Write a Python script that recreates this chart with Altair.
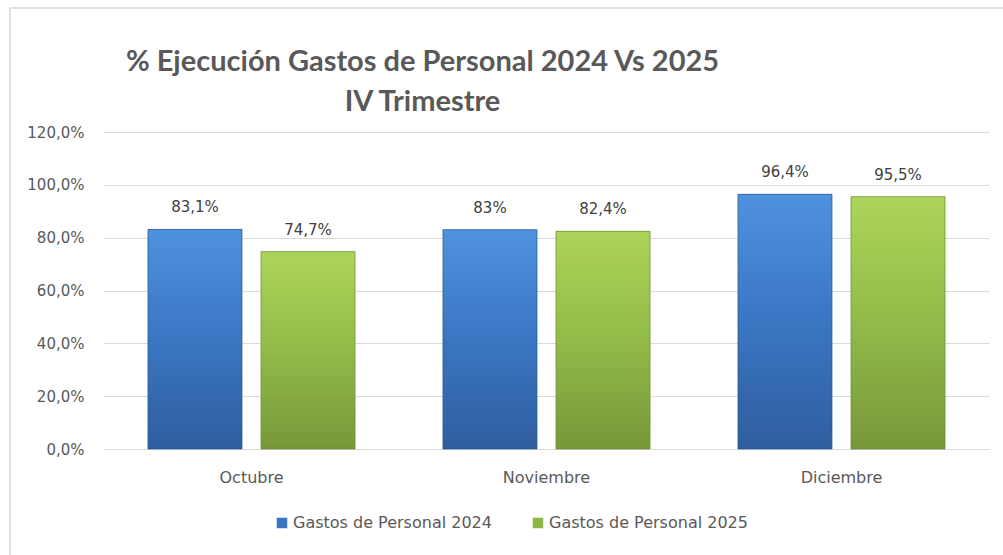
import altair as alt
import pandas as pd

months = ["Octubre", "Noviembre", "Diciembre"]
series = ["Gastos de Personal 2024", "Gastos de Personal 2025"]
values_2024 = [83.1, 83.0, 96.4]
values_2025 = [74.7, 82.4, 95.5]
labels_2024 = ["83,1%", "83%", "96,4%"]
labels_2025 = ["74,7%", "82,4%", "95,5%"]
y_ticks = [0, 20, 40, 60, 80, 100, 120]

rows = []
for m, v, l in zip(months, values_2024, labels_2024):
    rows.append({"mes": m, "serie": series[0], "valor": v, "etiqueta": l})
for m, v, l in zip(months, values_2025, labels_2025):
    rows.append({"mes": m, "serie": series[1], "valor": v, "etiqueta": l})
df = pd.DataFrame(rows)

FONT = "DejaVu Sans"
TXT = "#595959"
GRID = "#D9D9D9"

blue_grad = alt.Gradient(
    gradient="linear", x1=0, x2=0, y1=0, y2=1,
    stops=[alt.GradientStop(color="#4F92DE", offset=0),
           alt.GradientStop(color="#3C78C6", offset=0.45),
           alt.GradientStop(color="#2E5E9F", offset=1)])
green_grad = alt.Gradient(
    gradient="linear", x1=0, x2=0, y1=0, y2=1,
    stops=[alt.GradientStop(color="#ADD45A", offset=0),
           alt.GradientStop(color="#94BE4A", offset=0.45),
           alt.GradientStop(color="#77983A", offset=1)])

x_enc = alt.X("mes:N", sort=months,
              scale=alt.Scale(paddingInner=0, paddingOuter=0),
              axis=alt.Axis(title=None, labelAngle=0, labelPadding=20, ticks=False,
                            domain=True, domainColor=GRID, labelFont=FONT,
                            labelFontSize=16, labelColor=TXT))
xo_enc = alt.XOffset("serie:N", sort=series,
                     scale=alt.Scale(paddingInner=0.168, paddingOuter=0.389))
y_enc = alt.Y("valor:Q", scale=alt.Scale(domain=[0, 120], nice=False),
              axis=alt.Axis(title=None, values=y_ticks, ticks=False, domain=False,
                            gridColor=GRID, gridWidth=1, labelPadding=20,
                            labelFont=FONT, labelFontSize=15, labelColor=TXT,
                            labelExpr="replace(format(datum.value, '.1f'), '.', ',') + '%'"))

base = alt.Chart(df)

legend_bars = base.mark_bar().encode(
    x=x_enc, xOffset=xo_enc, y=y_enc,
    color=alt.Color("serie:N", sort=series,
                    scale=alt.Scale(domain=series, range=["#3A74C2", "#8DB645"]),
                    legend=alt.Legend(title=None, orient="none", direction="horizontal",
                                      legendX=170, legendY=383, symbolType="square",
                                      symbolSize=110, symbolStrokeWidth=0, labelLimit=0,
                                      labelFont=FONT, labelFontSize=16, labelColor=TXT,
                                      columnPadding=38, labelOffset=3)),
)

grad_bars = base.mark_bar(strokeWidth=1).encode(
    x=x_enc, xOffset=xo_enc, y=y_enc,
    fill=alt.condition(alt.datum.serie == series[0], alt.value(blue_grad), alt.value(green_grad)),
    stroke=alt.condition(alt.datum.serie == series[0], alt.value("#2B558F"), alt.value("#6A8A32")),
    strokeOpacity=alt.value(0.7),
)

text = base.mark_text(dy=-14, baseline="bottom", font=FONT, fontSize=15, color="#404040").encode(
    x=x_enc, xOffset=xo_enc, y=y_enc, text="etiqueta:N")

frame = alt.Chart(pd.DataFrame({"k": [0]})).mark_rect(
    fill=None, stroke="#D9D9D9", strokeWidth=1.5).encode(
    x=alt.value(-94), x2=alt.value(905), y=alt.value(-124), y2=alt.value(430))

chart = alt.layer(frame, legend_bars, grad_bars, text).properties(
    width=885, height=317,
    background="white",
    title=alt.TitleParams(
        text=["% Ejecución Gastos de Personal 2024 Vs 2025", "IV Trimestre"],
        anchor="middle", dx=-124, dy=139, font="Lato", fontSize=29, fontWeight="bold",
        color=TXT, lineHeight=40, baseline="bottom", offset=0),
    autosize=alt.AutoSizeParams(type="none"),
    padding={"left": 104, "top": 132, "right": 14, "bottom": 106},
).configure_view(stroke="transparent", strokeWidth=0)

chart.save("out.html", embed_options={"renderer": "svg", "actions": False})
